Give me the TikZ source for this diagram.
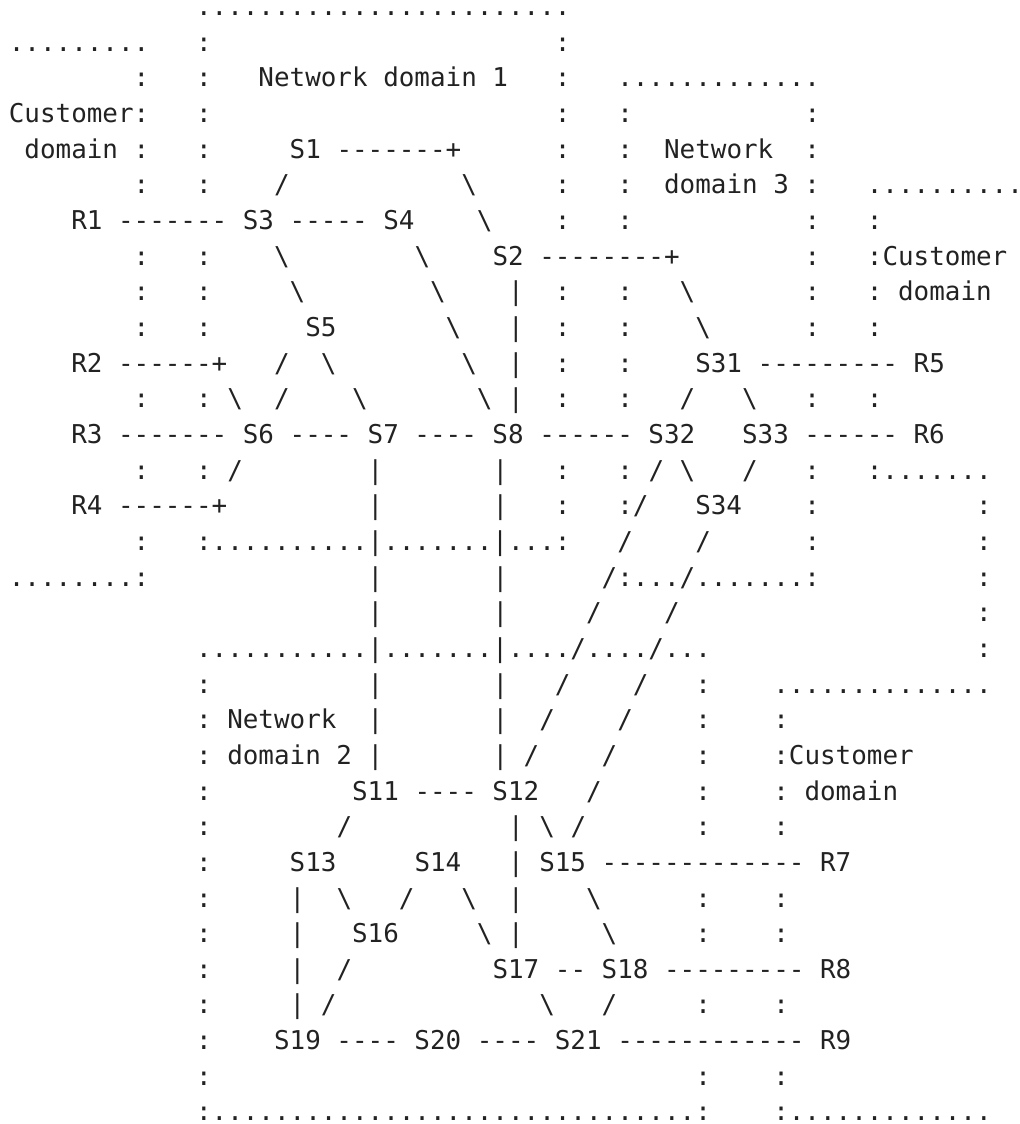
\documentclass[tikz,border=0pt]{standalone}
\usepackage{fontspec}
\setmonofont{DejaVu Sans Mono}
\ExplSyntaxOn
\cs_new:Npn \REP #1#2 { \prg_replicate:nn {#1} {#2} }
\ExplSyntaxOff
\newlength\cw
\newcommand\SP[1]{\hspace*{#1\cw}}
\newcommand\Dts[1]{\REP{#1}{.}}
\newcommand\Dsh[1]{\REP{#1}{-}}
\newcommand\BS{\textbackslash}
\definecolor{ink}{HTML}{222222}
\newcommand\ascfont{\ttfamily\fontsize{12.956pt}{15pt}\selectfont\frenchspacing}
\AtBeginDocument{\sbox0{\ascfont x}\global\cw=\wd0}
\tikzset{asc/.style={anchor=base west, inner sep=0pt, outer sep=0pt, text=ink, font=\ascfont}}
\newcommand\LN[2]{\node[asc] (l#1) at (8.9,{15.5+(#1-1)*35.66}) {#2};}
\begin{document}
\begin{tikzpicture}[x=0.5pt,y=-0.5pt]
\useasboundingbox (0,0) rectangle (1020,1124);
\LN{1}{\SP{12}\Dts{24}}
\LN{2}{\Dts{9}\SP{3}:\SP{22}:}
\LN{3}{\SP{8}:\SP{3}:\SP{3}Network\SP{1}domain\SP{1}1\SP{3}:\SP{3}\Dts{13}}
\LN{4}{Customer:\SP{3}:\SP{22}:\SP{3}:\SP{11}:}
\LN{5}{\SP{1}domain\SP{1}:\SP{3}:\SP{5}S1\SP{1}\Dsh{7}+\SP{6}:\SP{3}:\SP{2}Network\SP{2}:}
\LN{6}{\SP{8}:\SP{3}:\SP{4}/\SP{11}\BS\SP{5}:\SP{3}:\SP{2}domain\SP{1}3\SP{1}:\SP{3}\Dts{10}}
\LN{7}{\SP{4}R1\SP{1}\Dsh{7}\SP{1}S3\SP{1}\Dsh{5}\SP{1}S4\SP{4}\BS\SP{4}:\SP{3}:\SP{11}:\SP{3}:}
\LN{8}{\SP{8}:\SP{3}:\SP{4}\BS\SP{8}\BS\SP{4}S2\SP{1}\Dsh{8}+\SP{8}:\SP{3}:Customer}
\LN{9}{\SP{8}:\SP{3}:\SP{5}\BS\SP{8}\BS\SP{4}|\SP{2}:\SP{3}:\SP{3}\BS\SP{7}:\SP{3}:\SP{1}domain}
\LN{10}{\SP{8}:\SP{3}:\SP{6}S5\SP{7}\BS\SP{3}|\SP{2}:\SP{3}:\SP{4}\BS\SP{6}:\SP{3}:}
\LN{11}{\SP{4}R2\SP{1}\Dsh{6}+\SP{3}/\SP{2}\BS\SP{8}\BS\SP{2}|\SP{2}:\SP{3}:\SP{4}S31\SP{1}\Dsh{9}\SP{1}R5}
\LN{12}{\SP{8}:\SP{3}:\SP{1}\BS\SP{2}/\SP{4}\BS\SP{7}\BS\SP{1}|\SP{2}:\SP{3}:\SP{3}/\SP{3}\BS\SP{3}:\SP{3}:}
\LN{13}{\SP{4}R3\SP{1}\Dsh{7}\SP{1}S6\SP{1}\Dsh{4}\SP{1}S7\SP{1}\Dsh{4}\SP{1}S8\SP{1}\Dsh{6}\SP{1}S32\SP{3}S33\SP{1}\Dsh{6}\SP{1}R6}
\LN{14}{\SP{8}:\SP{3}:\SP{1}/\SP{8}|\SP{7}|\SP{3}:\SP{3}:\SP{1}/\SP{1}\BS\SP{3}/\SP{3}:\SP{3}:\Dts{7}}
\LN{15}{\SP{4}R4\SP{1}\Dsh{6}+\SP{9}|\SP{7}|\SP{3}:\SP{3}:/\SP{3}S34\SP{4}:\SP{10}:}
\LN{16}{\SP{8}:\SP{3}:\Dts{10}|\Dts{7}|\Dts{3}:\SP{3}/\SP{4}/\SP{6}:\SP{10}:}
\LN{17}{\Dts{8}:\SP{14}|\SP{7}|\SP{6}/:\Dts{3}/\Dts{7}:\SP{10}:}
\LN{18}{\SP{23}|\SP{7}|\SP{5}/\SP{4}/\SP{19}:}
\LN{19}{\SP{12}\Dts{11}|\Dts{7}|\Dts{4}/\Dts{4}/\Dts{3}\SP{17}:}
\LN{20}{\SP{12}:\SP{10}|\SP{7}|\SP{3}/\SP{4}/\SP{3}:\SP{4}\Dts{14}}
\LN{21}{\SP{12}:\SP{1}Network\SP{2}|\SP{7}|\SP{2}/\SP{4}/\SP{4}:\SP{4}:}
\LN{22}{\SP{12}:\SP{1}domain\SP{1}2\SP{1}|\SP{7}|\SP{1}/\SP{4}/\SP{5}:\SP{4}:Customer}
\LN{23}{\SP{12}:\SP{9}S11\SP{1}\Dsh{4}\SP{1}S12\SP{3}/\SP{6}:\SP{4}:\SP{1}domain}
\LN{24}{\SP{12}:\SP{8}/\SP{10}|\SP{1}\BS\SP{1}/\SP{7}:\SP{4}:}
\LN{25}{\SP{12}:\SP{5}S13\SP{5}S14\SP{3}|\SP{1}S15\SP{1}\Dsh{13}\SP{1}R7}
\LN{26}{\SP{12}:\SP{5}|\SP{2}\BS\SP{3}/\SP{3}\BS\SP{2}|\SP{4}\BS\SP{6}:\SP{4}:}
\LN{27}{\SP{12}:\SP{5}|\SP{3}S16\SP{5}\BS\SP{1}|\SP{5}\BS\SP{5}:\SP{4}:}
\LN{28}{\SP{12}:\SP{5}|\SP{2}/\SP{9}S17\SP{1}\Dsh{2}\SP{1}S18\SP{1}\Dsh{9}\SP{1}R8}
\LN{29}{\SP{12}:\SP{5}|\SP{1}/\SP{13}\BS\SP{3}/\SP{5}:\SP{4}:}
\LN{30}{\SP{12}:\SP{4}S19\SP{1}\Dsh{4}\SP{1}S20\SP{1}\Dsh{4}\SP{1}S21\SP{1}\Dsh{12}\SP{1}R9}
\LN{31}{\SP{12}:\SP{31}:\SP{4}:}
\LN{32}{\SP{12}:\Dts{31}:\SP{4}:\Dts{13}}
\end{tikzpicture}
\end{document}
